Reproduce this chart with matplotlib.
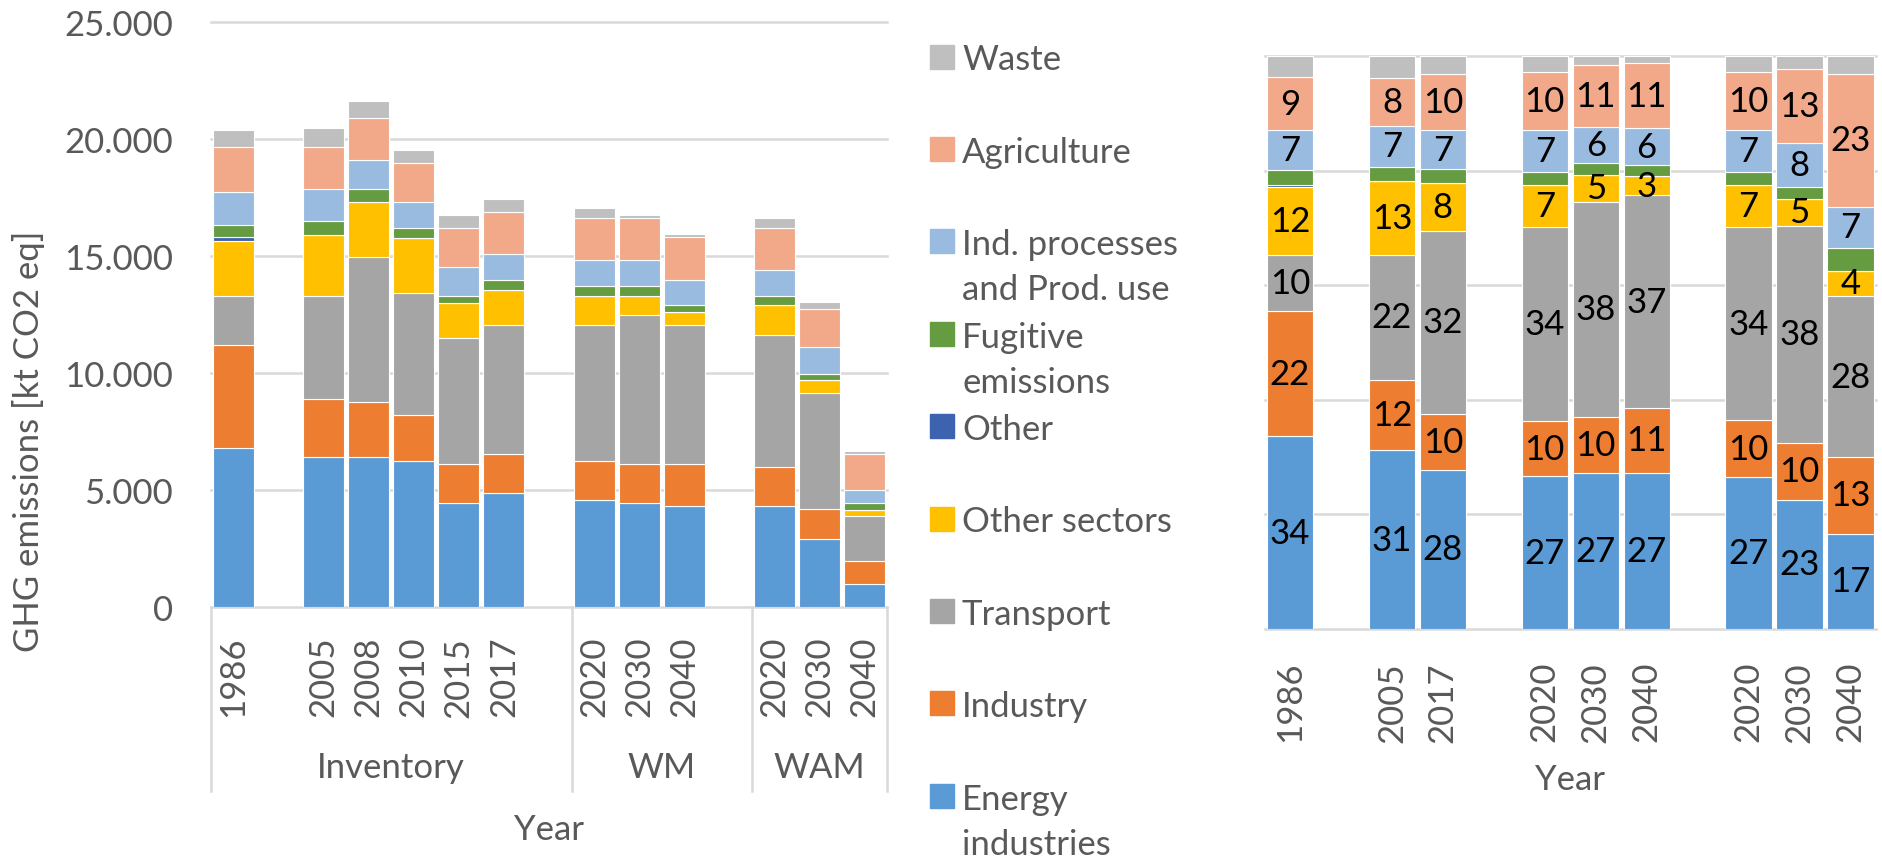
import matplotlib
matplotlib.use('Agg')
import matplotlib.pyplot as plt
from matplotlib.patches import Rectangle
from matplotlib.transforms import blended_transform_factory
import numpy as np

plt.rcParams['font.family'] = ['Lato', 'DejaVu Sans']

# ---------------- data ----------------
series = ['Energy industries', 'Industry', 'Transport', 'Other sectors', 'Other',
          'Fugitive emissions', 'Ind. processes and Prod. use', 'Agriculture', 'Waste']
legend_labels = ['Energy\nindustries', 'Industry', 'Transport', 'Other sectors', 'Other',
                 'Fugitive\nemissions', 'Ind. processes\nand Prod. use', 'Agriculture', 'Waste']
colors = ['#5B9BD5', '#ED7D31', '#A5A5A5', '#FFC000', '#3C62B0',
          '#659B41', '#9ABBE0', '#F2A98A', '#BFBFBF']
labelled = [True, True, True, True, False, False, True, True, False]

# left chart: absolute emissions [kt CO2 eq]
left_slots = ['1986', '', '2005', '2008', '2010', '2015', '2017', '',
              '2020', '2030', '2040', '', '2020', '2030', '2040']
left_groups = [('Inventory', 0, 8), ('WM', 8, 12), ('WAM', 12, 15)]
energy      = [6800, 6380, 6380, 6240, 4430, 4850, 4570, 4430, 4300, 4300, 2910, 980]
industry    = [4400, 2480, 2350, 1930, 1680, 1660, 1670, 1680, 1810, 1650, 1250, 970]
transport   = [2080, 4420, 6220, 5240, 5380, 5530, 5800, 6340, 5930, 5670, 4970, 1920]
other_sect  = [2350, 2620, 2340, 2350, 1500, 1510, 1240, 830, 540, 1250, 550, 270]
other       = [150, 0, 0, 0, 0, 0, 0, 0, 0, 0, 0, 0]
fugitive    = [530, 560, 540, 430, 290, 420, 420, 420, 290, 410, 280, 290]
ippu        = [1400, 1370, 1270, 1100, 1250, 1120, 1100, 1100, 1100, 1110, 1120, 560]
agriculture = [1940, 1820, 1790, 1670, 1660, 1790, 1810, 1810, 1810, 1800, 1660, 1520]
waste       = [700, 820, 710, 560, 540, 560, 420, 140, 140, 420, 270, 140]
left_data = [energy, industry, transport, other_sect, other, fugitive, ippu, agriculture, waste]

# right chart: shares [%]
right_slots = ['1986', '', '2005', '2017', '', '2020', '2030', '2040', '', '2020', '2030', '2040']
energy_pct      = [33.6, 31.2, 27.8, 26.7, 27.2, 27.3, 26.6, 22.6, 16.6]
industry_pct    = [21.9, 12.3, 9.7, 9.6, 9.8, 11.3, 9.8, 9.8, 13.4]
transport_pct   = [9.8, 21.8, 32.0, 33.8, 37.6, 37.1, 33.8, 38.0, 28.1]
other_sect_pct  = [11.8, 12.9, 8.3, 7.3, 4.6, 3.3, 7.2, 4.6, 4.4]
other_pct       = [0.4, 0, 0, 0, 0, 0, 0, 0, 0]
fugitive_pct    = [2.6, 2.5, 2.4, 2.3, 2.2, 2.0, 2.3, 2.1, 4.0]
ippu_pct        = [6.9, 7.1, 6.8, 7.3, 6.2, 6.4, 7.3, 7.8, 7.2]
agriculture_pct = [9.4, 8.4, 9.8, 10.2, 10.9, 11.3, 10.2, 12.8, 23.2]
waste_pct       = [3.6, 3.8, 3.2, 2.8, 1.5, 1.3, 2.8, 2.3, 3.1]
right_data = [energy_pct, industry_pct, transport_pct, other_sect_pct, other_pct,
              fugitive_pct, ippu_pct, agriculture_pct, waste_pct]

# ---------------- layout ----------------
W, H = 1882, 862
GRAY = '#595959'
GRID = '#D9D9D9'
FS = 25
fig = plt.figure(figsize=(W / 100, H / 100), dpi=100)


def fx(px):
    return px / W


def fy(py):
    return 1 - py / H


axL = fig.add_axes([fx(210.7), fy(607.7), 676.6 / W, 585.1 / H])
axR = fig.add_axes([fx(1264.5), fy(630), 611.5 / W, 573 / H])

# ---------------- left chart ----------------
left_pos = [i for i, s in enumerate(left_slots) if s]
left_lab = [s for s in left_slots if s]
bottom = np.zeros(len(left_pos))
for vals, c in zip(left_data, colors):
    v = np.array(vals, dtype=float)
    axL.bar(left_pos, v, bottom=bottom, width=0.91, color=c,
            edgecolor='white', linewidth=0.8, zorder=3)
    bottom += v

axL.set_xlim(-0.5, len(left_slots) - 0.5)
axL.set_ylim(0, 25000)
axL.set_yticks(np.arange(0, 25001, 5000))
axL.set_yticklabels([f"{int(t):,}".replace(',', '.') for t in np.arange(0, 25001, 5000)])
axL.set_xticks(left_pos)
axL.set_xticklabels(left_lab, rotation=90)
axL.yaxis.grid(True, color=GRID, lw=1.8, zorder=0)
for gl in axL.get_ygridlines():
    gl.set_clip_on(False)
for sp in axL.spines.values():
    sp.set_visible(False)
axL.tick_params(axis='both', length=0, labelsize=FS, labelcolor=GRAY)
axL.tick_params(axis='y', pad=27)
axL.tick_params(axis='x', pad=21)

trans = blended_transform_factory(axL.transData, axL.transAxes)
bounds = sorted({g[1] for g in left_groups} | {g[2] for g in left_groups})
for b in bounds:
    axL.plot([b - 0.5, b - 0.5], [0, -0.315], transform=trans, color=GRID,
             lw=1.8, clip_on=False)
for name, s, e in left_groups:
    axL.text((s + e - 1) / 2, -0.274, name, transform=trans, ha='center',
             va='center', fontsize=FS, color=GRAY)

fig.text(fx(549), fy(830), 'Year', ha='center', va='center', fontsize=FS, color=GRAY)
fig.text(fx(29), fy(441), 'GHG emissions [kt CO2 eq]', rotation=90,
         ha='center', va='center', fontsize=FS, color=GRAY)

# ---------------- right chart ----------------
right_pos = [i for i, s in enumerate(right_slots) if s]
right_lab = [s for s in right_slots if s]
bottom = np.zeros(len(right_pos))
for vals, c, lab in zip(right_data, colors, labelled):
    v = np.array(vals, dtype=float)
    axR.bar(right_pos, v, bottom=bottom, width=0.91, color=c,
            edgecolor='white', linewidth=0.8, zorder=3)
    if lab:
        for x, b, val in zip(right_pos, bottom, v):
            if val > 0:
                axR.text(x, b + val / 2, f"{val:.0f}", ha='center',
                         va='center', fontsize=FS, color='black', zorder=5)
    bottom += v

axR.set_xlim(-0.5, len(right_slots) - 0.5)
axR.set_ylim(0, 100)
axR.set_yticks(np.arange(0, 101, 20))
axR.set_yticklabels([])
axR.set_xticks(right_pos)
axR.set_xticklabels(right_lab, rotation=90)
axR.yaxis.grid(True, color=GRID, lw=1.8, zorder=0)
for gl in axR.get_ygridlines():
    gl.set_clip_on(False)
for sp in axR.spines.values():
    sp.set_visible(False)
axR.tick_params(axis='both', length=0, labelsize=FS, labelcolor=GRAY)
axR.tick_params(axis='x', pad=23)
fig.text(fx(1570), fy(780), 'Year', ha='center', va='center', fontsize=FS, color=GRAY)

# ---------------- legend ----------------
for i, (lab, c) in enumerate(zip(legend_labels[::-1], colors[::-1])):
    yc = 57.5 + i * 92.4
    fig.patches.append(Rectangle((fx(930), fy(yc + 12)), 24 / W, 24 / H,
                                 transform=fig.transFigure, color=c))
    for j, line in enumerate(lab.split('\n')):
        fig.text(fx(962), fy(yc + j * 45), line, ha='left', va='center_baseline',
                 fontsize=FS, color=GRAY)

fig.savefig('out.png', dpi=100)
